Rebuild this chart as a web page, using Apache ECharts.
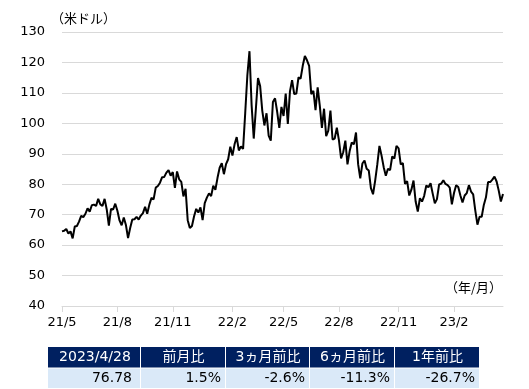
<!DOCTYPE html>
<html><head><meta charset="utf-8">
<script src="https://cdn.jsdelivr.net/npm/echarts@6/dist/echarts.min.js"></script>
<style>html,body{margin:0;padding:0;background:#fff}#c{width:529px;height:389px}</style>
</head><body><div id="c"></div>
<script>
// Data: WTI crude oil price, two readings per week (Mon, Thu), from 2021/5/3 to 2023/4/28
const startYear = 2021, startMonth = 5, startDay = 3;
const weekCount = 104;
const prices = [
  64.5, 64.7,  65.3, 63.8,  64.5, 62.2,  66.1, 66.3,  67.7, 69.6,
  69.2, 70.3,  72.1, 71.0,  73.1, 73.3,  72.9, 75.2,  73.4, 72.9,
  75.2, 71.7,  66.4, 71.9,  71.7, 73.6,  71.3, 68.1,  66.5, 69.1,
  66.6, 62.3,  65.6, 68.4,  68.5, 69.3,  68.4, 69.7,  70.5, 72.6,
  70.3, 73.3,  75.5, 75.0,  78.9, 79.4,  80.5, 82.3,  82.4, 83.8,
  84.6, 82.8,  84.0, 78.8,  84.2, 81.6,  80.8, 76.0,  78.5, 68.2,
  65.6, 66.3,  69.5, 71.9,  70.7, 72.4,  68.2, 73.8,  75.6, 77.0,
  76.1, 79.5,  78.2, 82.1,  85.4, 86.9,  83.3, 86.6,  88.2, 92.3,
  89.4, 93.1,  95.5, 91.1,  92.4, 91.6,  103.4, 115.7, 123.7, 106.0,
  95.0, 104.7, 114.9, 112.3, 104.2, 99.3, 103.3, 96.0, 94.3, 107.0,
  108.2, 103.8, 98.5, 105.4, 102.4, 109.8, 99.8, 110.5, 114.2, 109.6,
  109.8, 115.1, 114.7, 118.9, 122.1, 120.7, 118.9, 109.6, 110.7, 104.3,
  111.8, 105.8, 98.5, 104.8, 95.8, 97.6,  104.2, 94.7,  95.0, 98.6,
  94.4, 88.5,  90.5, 94.3,  86.5, 90.8,  93.7, 93.1,  97.0, 86.6,
  81.9, 86.8,  87.8, 85.1,  84.5, 78.7,  76.7, 81.2,  86.5, 92.6,
  89.4, 85.6,  82.8, 85.1,  84.6, 89.1,  88.4, 92.6,  91.8, 86.5,
  86.9, 80.1,  81.0, 76.3,  78.2, 81.2,  74.3, 71.0,  75.4, 74.3,
  76.2, 79.6,  79.0, 80.3,  76.9, 73.7,  75.1, 79.9,  80.2, 81.3,
  80.1, 79.7,  78.9, 73.4,  77.1, 79.7,  79.1, 76.3,  74.0, 76.3,
  77.1, 79.7,  77.6, 76.7,  71.3, 66.7,  69.3, 69.3,  73.2, 75.7,
  80.7, 80.7,  81.5, 82.5,  80.9, 77.9,  74.3, 76.8
];
const labelMonths = [2, 5, 8, 11];
const yMin = 40, yMax = 130, yStep = 10;
const unitY = '（米ドル）';
const unitX = '（年/月）';
const tableHeaders = ['2023/4/28', '前月比', '3ヵ月前比', '6ヵ月前比', '1年前比'];
const tableValues = ['76.78', '1.5%', '-2.6%', '-11.3%', '-26.7%'];

// categories: Monday and Thursday of each week
const categories = [];
const base = Date.UTC(startYear, startMonth - 1, startDay);
for (let w = 0; w < weekCount; w++) {
  for (const off of [0, 3]) {
    const d = new Date(base + (w * 7 + off) * 86400000);
    categories.push(d.getUTCFullYear() + '/' + (d.getUTCMonth() + 1) + '/' + d.getUTCDate());
  }
}
categories[categories.length - 1] = '2023/4/28';

function isLabel(idx, val) {
  const p = String(val).split('/');
  return idx % 2 === 0 && labelMonths.indexOf(+p[1]) >= 0 && +p[2] <= 7;
}

const FONT_NUM = '"DejaVu Sans", "Noto Sans CJK JP", sans-serif';
const FONT_JP = '"Noto Sans CJK JP", sans-serif';

// table graphics
const colEdges = [48, 140, 225, 309, 394, 479];
const rowEdges = [347, 367.5, 388];
const graphics = [];
for (let i = 0; i < tableHeaders.length; i++) {
  const x0 = colEdges[i] + (i > 0 ? 1 : 0);
  const w = colEdges[i + 1] - x0;
  graphics.push({type: 'rect', shape: {x: x0, y: rowEdges[0], width: w, height: rowEdges[1] - rowEdges[0]},
    style: {fill: '#002060'}, silent: true});
  graphics.push({type: 'rect', shape: {x: x0, y: rowEdges[1] + 1, width: w, height: rowEdges[2] - rowEdges[1] - 1},
    style: {fill: '#dae9f8'}, silent: true});
  graphics.push({type: 'text', style: {text: tableHeaders[i], x: (colEdges[i] + colEdges[i + 1]) / 2 + 1,
    y: (rowEdges[0] + rowEdges[1]) / 2, textAlign: 'center', textVerticalAlign: 'middle',
    fill: '#fff', fontSize: 14, fontFamily: FONT_NUM}, silent: true});
  graphics.push({type: 'text', style: {text: tableValues[i], x: colEdges[i + 1] - (i === 0 ? 8 : 4),
    y: (rowEdges[1] + rowEdges[2]) / 2 + 0.5, textAlign: 'right', textVerticalAlign: 'middle',
    fill: '#000', fontSize: 14, fontFamily: FONT_NUM}, silent: true});
}
graphics.push({type: 'text', style: {text: unitY, x: 51, y: 18, textAlign: 'left', textVerticalAlign: 'middle',
  fill: '#000', fontSize: 13, fontFamily: FONT_JP}, silent: true});
graphics.push({type: 'text', style: {text: unitX, x: 502, y: 287, textAlign: 'right', textVerticalAlign: 'middle',
  fill: '#000', fontSize: 13, fontFamily: FONT_JP}, silent: true});

const chart = echarts.init(document.getElementById('c'), null, {renderer: 'canvas'});
chart.setOption({
  animation: false,
  backgroundColor: '#fff',
  grid: {left: 62, right: 26, top: 32, bottom: 83, containLabel: false},
  xAxis: {
    type: 'category', data: categories, boundaryGap: false,
    axisLine: {lineStyle: {color: '#d9d9d9', width: 1}},
    axisTick: {show: true, interval: isLabel, length: 6, lineStyle: {color: '#d9d9d9'}},
    axisLabel: {interval: isLabel, margin: 10, color: '#000', fontSize: 13, fontFamily: FONT_NUM,
      formatter: v => { const p = v.split('/'); return p[0].slice(2) + '/' + p[1]; }},
    splitLine: {show: false}
  },
  yAxis: {
    type: 'value', min: yMin, max: yMax, interval: yStep,
    axisLine: {show: false}, axisTick: {show: false},
    axisLabel: {margin: 17, color: '#000', fontSize: 13, fontFamily: FONT_NUM},
    splitLine: {lineStyle: {color: '#d9d9d9', width: 1}}
  },
  series: [{
    type: 'line', data: prices, showSymbol: false, symbol: 'none',
    lineStyle: {color: '#000', width: 2}, z: 3
  }],
  graphic: graphics
});
</script>
</body></html>
